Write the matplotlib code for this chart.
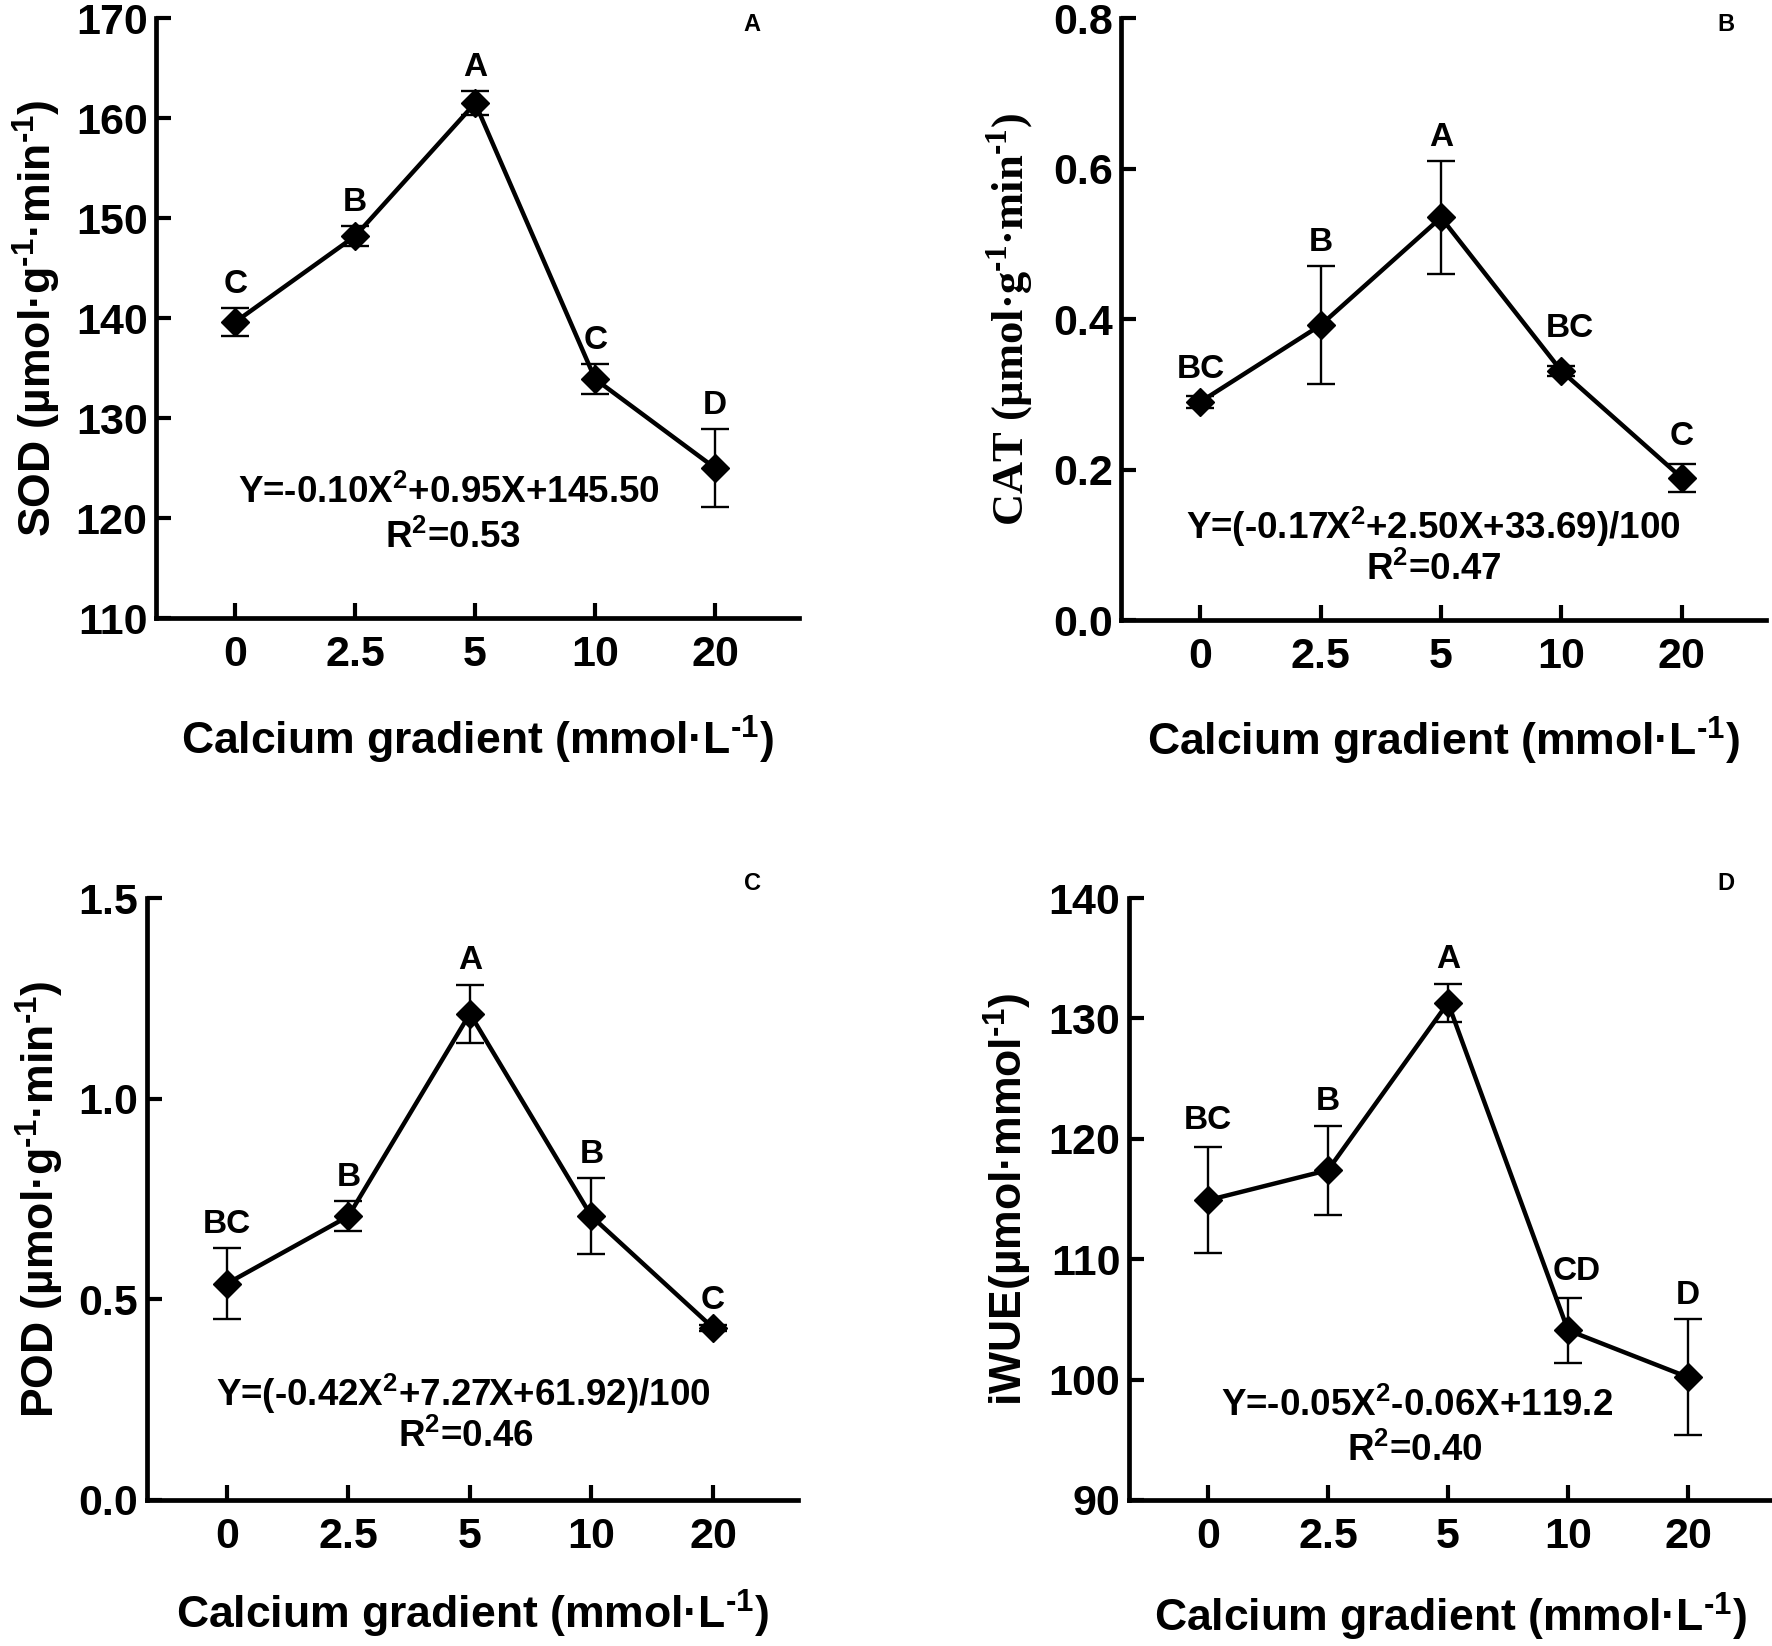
import matplotlib
matplotlib.use("Agg")
import matplotlib.pyplot as plt
import numpy as np

plt.rcParams['font.family'] = ['Liberation Sans', 'DejaVu Sans']
plt.rcParams['font.weight'] = 'bold'
plt.rcParams['mathtext.fontset'] = 'custom'
plt.rcParams['mathtext.rm'] = 'Liberation Sans:bold'
plt.rcParams['mathtext.it'] = 'Liberation Sans:bold'
plt.rcParams['mathtext.bf'] = 'Liberation Sans:bold'
plt.rcParams['mathtext.sf'] = 'Liberation Serif:bold'

# ---------------- data ----------------
x_labels = ['0', '2.5', '5', '10', '20']

sod = [139.6, 148.2, 161.5, 133.9, 125.0]
sod_err = [1.4, 1.0, 1.2, 1.5, 3.9]
sod_letters = ['C', 'B', 'A', 'C', 'D']

cat = [0.290, 0.392, 0.535, 0.331, 0.189]
cat_err = [0.008, 0.078, 0.075, 0.006, 0.019]
cat_letters = ['BC', 'B', 'A', 'BC', 'C']

pod = [0.539, 0.707, 1.212, 0.707, 0.429]
pod_err = [0.089, 0.037, 0.072, 0.095, 0.008]
pod_letters = ['BC', 'B', 'A', 'B', 'C']

iwue = [114.9, 117.4, 131.3, 104.1, 100.2]
iwue_err = [4.4, 3.7, 1.6, 2.7, 4.8]
iwue_letters = ['BC', 'B', 'A', 'CD', 'D']

SUP = r"$^{\text{-1}}$"
SUP_SERIF = r"$^{\mathsf{\text{-}1}}$"

panels = [
    dict(y=sod, e=sod_err, let=sod_letters, tag='A',
         ylabel="SOD (µmol·g" + SUP + "·min" + SUP + ")", yfont='Liberation Sans',
         ylim=(110, 170), yticks=[110, 120, 130, 140, 150, 160, 170], fmt='{:.0f}',
         eq="Y=-0.10X$^{2}$+0.95X+145.50", r2="R$^{2}$=0.53",
         rect=[0.088, 0.6245, 0.363, 0.3645], eqpos=(0.456, 0.208), r2pos=(0.462, 0.133),
         ylabx=-0.185, xlaby=-0.203, tagpos=(0.927, 0.99), letoff=[6, 6, 6, 6, 6]),
    dict(y=cat, e=cat_err, let=cat_letters, tag='B',
         ylabel="CAT (µmol·g" + SUP_SERIF + "·min" + SUP_SERIF + ")", yfont='Liberation Serif',
         ylim=(0, 0.8), yticks=[0.0, 0.2, 0.4, 0.6, 0.8], fmt='{:.1f}',
         eq="Y=(-0.17X$^{2}$+2.50X+33.69)/100", r2="R$^{2}$=0.47",
         rect=[0.6326, 0.6233, 0.364, 0.3657], eqpos=(0.485, 0.154), r2pos=(0.485, 0.083),
         ylabx=-0.171, xlaby=-0.201, tagpos=(0.938, 0.99), letoff=[8, 6, 6, 16, 8]),
    dict(y=pod, e=pod_err, let=pod_letters, tag='C',
         ylabel="POD (µmol·g" + SUP + "·min" + SUP + ")", yfont='Liberation Sans',
         ylim=(0, 1.5), yticks=[0.0, 0.5, 1.0, 1.5], fmt='{:.1f}',
         eq="Y=(-0.42X$^{2}$+7.27X+61.92)/100", r2="R$^{2}$=0.46",
         rect=[0.0827, 0.0887, 0.3677, 0.3657], eqpos=(0.486, 0.176), r2pos=(0.49, 0.104),
         ylabx=-0.164, xlaby=-0.19, tagpos=(0.93, 1.024), letoff=[6, 6, 6, 6, 6]),
    dict(y=iwue, e=iwue_err, let=iwue_letters, tag='D',
         ylabel="iWUE(µmol·mmol" + SUP + ")", yfont='Liberation Sans',
         ylim=(90, 140), yticks=[90, 100, 110, 120, 130, 140], fmt='{:.0f}',
         eq="Y=-0.05X$^{2}$-0.06X+119.2", r2="R$^{2}$=0.40",
         rect=[0.637, 0.0887, 0.363, 0.3657], eqpos=(0.448, 0.156), r2pos=(0.445, 0.081),
         ylabx=-0.188, xlaby=-0.194, tagpos=(0.929, 1.024), letoff=[8, 6, 6, 8, 6]),
]

fig = plt.figure(figsize=(17.72, 16.46), dpi=100)
xpos = np.arange(len(x_labels))

for p in panels:
    ax = fig.add_axes(p['rect'])
    ax.errorbar(xpos, p['y'], yerr=p['e'], fmt='-D', color='black', lw=3.2,
                markersize=14.5, ecolor='black', elinewidth=1.7, capsize=10,
                capthick=1.7, clip_on=False, zorder=3)
    for xi, yi, ei, lt, off in zip(xpos, p['y'], p['e'], p['let'], p['letoff']):
        dx = 6 if len(lt) == 2 and xi == 3 else 0
        ax.annotate(lt, (xi, yi + ei), xytext=(dx, off), textcoords='offset points',
                    ha='center', va='bottom', fontsize=24, fontweight='bold')
    ax.set_xlim(-0.66, 4.7)
    ax.set_ylim(*p['ylim'])
    ax.set_xticks(xpos)
    ax.set_xticklabels(x_labels)
    ax.set_yticks(p['yticks'])
    ax.set_yticklabels([p['fmt'].format(v) for v in p['yticks']])
    for s in ['top', 'right']:
        ax.spines[s].set_visible(False)
    for s in ['left', 'bottom']:
        ax.spines[s].set_linewidth(3.4)
    ax.tick_params(axis='both', direction='in', length=11, width=3, labelsize=31)
    ax.tick_params(axis='x', pad=12)
    ax.tick_params(axis='y', pad=6)
    for lab in ax.get_xticklabels() + ax.get_yticklabels():
        lab.set_fontweight('bold')
    ax.set_xlabel("Calcium gradient (mmol·L" + SUP + ")", fontsize=32, fontweight='bold',
                  va='center')
    ax.xaxis.set_label_coords(0.5, p['xlaby'])
    ax.set_ylabel(p['ylabel'], fontsize=32, fontweight='bold', family=p['yfont'],
                  va='center')
    ax.yaxis.set_label_coords(p['ylabx'], 0.5)
    ax.text(p['eqpos'][0], p['eqpos'][1], p['eq'], transform=ax.transAxes,
            ha='center', va='center', fontsize=26.5, fontweight='bold')
    ax.text(p['r2pos'][0], p['r2pos'][1], p['r2'], transform=ax.transAxes,
            ha='center', va='center', fontsize=26.5, fontweight='bold')
    ax.text(p['tagpos'][0], p['tagpos'][1], p['tag'], transform=ax.transAxes,
            ha='center', va='center', fontsize=17, fontweight='bold')

fig.savefig('out.png', dpi=100)
